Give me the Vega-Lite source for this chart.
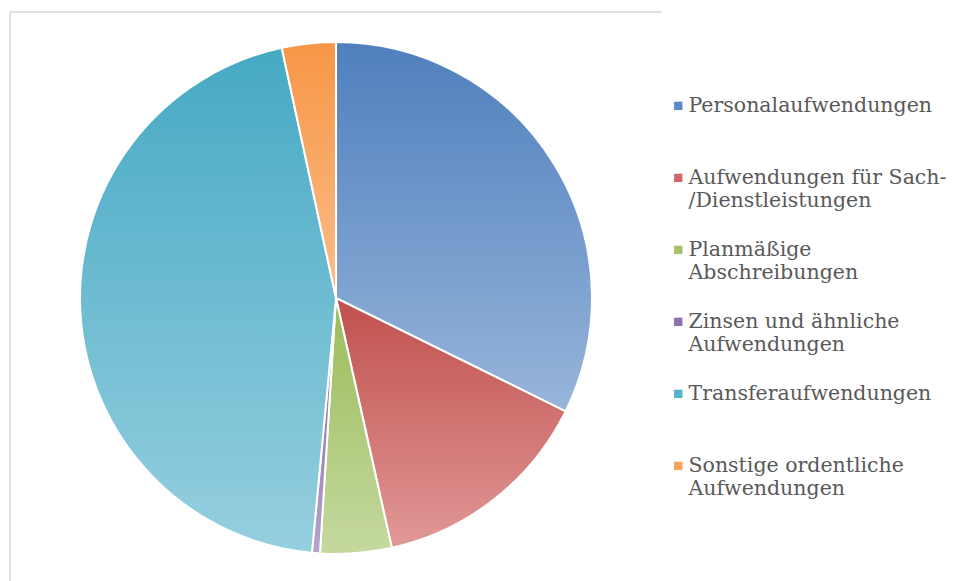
{
  "$schema": "https://vega.github.io/schema/vega-lite/v6.json",
  "width": 652,
  "height": 572,
  "padding": {"left": 9, "top": 11, "right": 0, "bottom": 0},
  "background": "white",
  "config": {
    "view": {"stroke": null},
    "font": "DejaVu Serif"
  },
  "data": {
    "values": [
      {"Kategorie": "Personalaufwendungen", "Anteil": 32.3, "Reihenfolge": 1},
      {"Kategorie": "Aufwendungen für Sach-|/Dienstleistungen", "Anteil": 14.2, "Reihenfolge": 2},
      {"Kategorie": "Planmäßige|Abschreibungen", "Anteil": 4.5, "Reihenfolge": 3},
      {"Kategorie": "Zinsen und ähnliche|Aufwendungen", "Anteil": 0.5, "Reihenfolge": 4},
      {"Kategorie": "Transferaufwendungen", "Anteil": 45.1, "Reihenfolge": 5},
      {"Kategorie": "Sonstige ordentliche|Aufwendungen", "Anteil": 3.4, "Reihenfolge": 6}
    ]
  },
  "layer": [
    {
      "data": {"values": [{"Rahmen": 1}]},
      "mark": {"type": "rect", "fill": null, "stroke": "#d9d9d9", "strokeWidth": 1.5, "strokeDash": [652, 1224, 572, 0]},
      "encoding": {}
    },
    {
      "mark": {"type": "arc", "outerRadius": 256, "stroke": "white", "strokeWidth": 2},
      "encoding": {
        "theta": {"field": "Anteil", "type": "quantitative", "stack": true},
        "order": {"field": "Reihenfolge", "type": "quantitative"},
        "color": {
          "field": "Kategorie",
          "type": "nominal",
          "sort": ["Personalaufwendungen", "Aufwendungen für Sach-|/Dienstleistungen", "Planmäßige|Abschreibungen", "Zinsen und ähnliche|Aufwendungen", "Transferaufwendungen", "Sonstige ordentliche|Aufwendungen"],
          "scale": {
            "domain": ["Personalaufwendungen", "Aufwendungen für Sach-|/Dienstleistungen", "Planmäßige|Abschreibungen", "Zinsen und ähnliche|Aufwendungen", "Transferaufwendungen", "Sonstige ordentliche|Aufwendungen"],
            "range": ["#5b8ac6", "#cf6a68", "#a5c16a", "#8c73ad", "#53b1ca", "#f9a35d"]
          },
          "legend": {
            "title": null,
            "orient": "none",
            "legendX": 658,
            "legendY": 74,
            "padding": 0,
            "symbolType": "M-1,1.3H1V3.3H-1Z",
            "symbolSize": 70,
            "symbolStrokeWidth": 0,
            "labelFont": "DejaVu Serif",
            "labelFontSize": 20.5,
            "labelColor": "#595959",
            "labelLimit": 400,
            "labelOffset": 0,
            "labelBaseline": "top",
            "labelExpr": "indexof(datum.label, '|') < 0 ? [datum.label, ' '] : split(datum.label, '|')",
            "rowPadding": 18
          }
        }
      }
    },
    {
      "mark": {"type": "arc", "outerRadius": 256, "stroke": "white", "strokeWidth": 2},
      "encoding": {
        "theta": {"field": "Anteil", "type": "quantitative", "stack": true},
        "order": {"field": "Reihenfolge", "type": "quantitative"},
        "fill": {
          "condition": [
            {"test": "datum.Reihenfolge === 1", "value": {"gradient": "linear", "x1": 0, "y1": 0, "x2": 0, "y2": 1, "stops": [{"offset": 0, "color": "#4f7fbd"}, {"offset": 1, "color": "#97b5da"}]}},
            {"test": "datum.Reihenfolge === 2", "value": {"gradient": "linear", "x1": 0, "y1": 0, "x2": 0, "y2": 1, "stops": [{"offset": 0, "color": "#c0504d"}, {"offset": 1, "color": "#e19897"}]}},
            {"test": "datum.Reihenfolge === 3", "value": {"gradient": "linear", "x1": 0, "y1": 0, "x2": 0, "y2": 1, "stops": [{"offset": 0, "color": "#9bbb59"}, {"offset": 1, "color": "#c5d99f"}]}},
            {"test": "datum.Reihenfolge === 4", "value": {"gradient": "linear", "x1": 0, "y1": 0, "x2": 0, "y2": 1, "stops": [{"offset": 0, "color": "#8064a2"}, {"offset": 1, "color": "#b4a3cb"}]}},
            {"test": "datum.Reihenfolge === 5", "value": {"gradient": "linear", "x1": 0, "y1": 0, "x2": 0, "y2": 1, "stops": [{"offset": 0, "color": "#46a9c4"}, {"offset": 1, "color": "#96cfdf"}]}}
          ],
          "value": {"gradient": "linear", "x1": 0, "y1": 0, "x2": 0, "y2": 1, "stops": [{"offset": 0, "color": "#f79646"}, {"offset": 1, "color": "#fbbd8a"}]}
        }
      }
    }
  ]
}
